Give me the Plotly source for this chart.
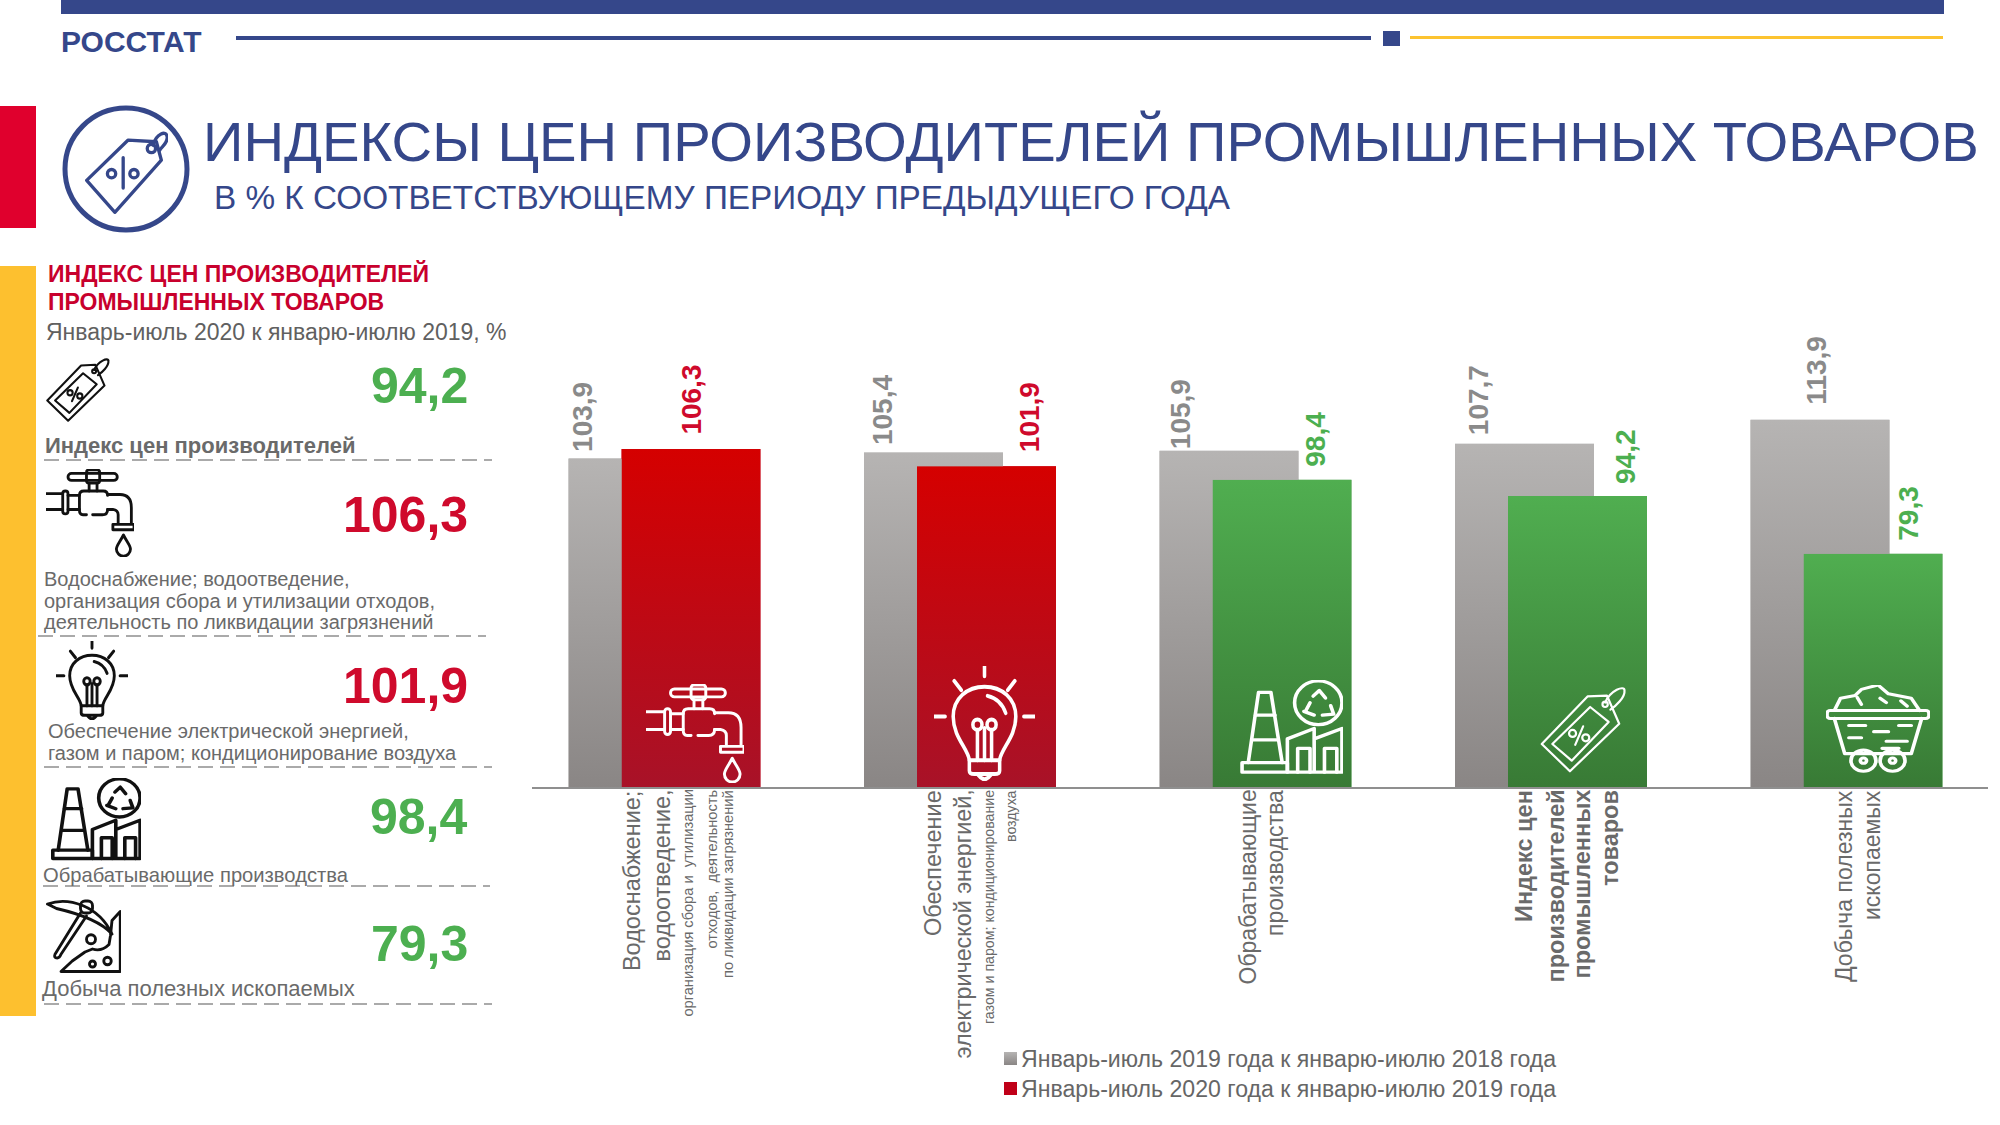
import base64
import plotly.graph_objects as go

# ---------- data ----------
categories = ["Водоснабжение; водоотведение", "Обеспечение электрической энергией",
              "Обрабатывающие производства", "Индекс цен производителей промышленных товаров",
              "Добыча полезных ископаемых"]
values_2019 = [103.9, 105.4, 105.9, 107.7, 113.9]
values_2020 = [106.3, 101.9, 98.4, 94.2, 79.3]
series_names = ["Январь-июль 2019 года к январю-июлю 2018 года",
                "Январь-июль 2020 года к январю-июлю 2019 года"]
panel_values = ["94,2", "106,3", "101,9", "98,4", "79,3"]
title_text = "ИНДЕКСЫ ЦЕН ПРОИЗВОДИТЕЛЕЙ ПРОМЫШЛЕННЫХ ТОВАРОВ"
subtitle_text = "В % К СООТВЕТСТВУЮЩЕМУ ПЕРИОДУ ПРЕДЫДУЩЕГО ГОДА"

# ---------- style ----------
W, H = 2000, 1125
FONT = "Liberation Sans"
NAVY = "#35478a"
RED = "#cf0a2c"
GREEN = "#4caf50"
GREY = "#6a6a6a"
BASE_PX, TOP_PX = 787, 300
PX_PER_UNIT = 3.875
Y_MIN = 19.1
GROUP0, PERIOD = 664.5, 295.5
AX_L, AX_R = 532, 1988
BAR_W = 139 / PERIOD
OFF_GREY = -96 / PERIOD
OFF_MAIN = -43 / PERIOD


def fx(x):
    return x / W


def fy(y):
    return 1 - y / H


def svg_uri(body, vb="0 0 100 100"):
    s = f'<svg xmlns="http://www.w3.org/2000/svg" viewBox="{vb}" preserveAspectRatio="none">{body}</svg>'
    return "data:image/svg+xml;base64," + base64.b64encode(s.encode()).decode()


def gradient(top, bottom):
    return svg_uri(f'<defs><linearGradient id="g" x1="0" y1="0" x2="0" y2="1">'
                   f'<stop offset="0" stop-color="{top}"/><stop offset="1" stop-color="{bottom}"/>'
                   f'</linearGradient></defs><rect width="100" height="100" fill="url(#g)"/>')


def tag_icon(c, sw=3):
    return svg_uri(f'<g fill="none" stroke="{c}" stroke-width="{sw}" stroke-linejoin="round" stroke-linecap="round">'
                   '<path d="M2 67 L54 13 L76 12 L90 44 L34 98 Z"/>'
                   '<path d="M14 67 L57 25 L78 42 L36 86 Z"/>'
                   '<circle cx="37" cy="55" r="4"/><circle cx="52" cy="60" r="4"/><path d="M40 68 L49 47"/>'
                   '<circle cx="74" cy="22" r="3"/><path d="M74 20 C80 6 96 0 96 6 C97 14 86 24 80 28"/></g>')


def big_tag_icon(c, sw=3.5):
    return svg_uri(f'<g fill="none" stroke="{c}" stroke-width="{sw}" stroke-linejoin="round" stroke-linecap="round">'
                   '<path d="M2 60 L52 12 L86 14 L92 36 L36 98 Z"/>'
                   '<circle cx="32" cy="52" r="5"/><circle cx="59" cy="52" r="5"/><path d="M46 33 L46 69"/>'
                   '<circle cx="80" cy="22" r="5"/><path d="M82 18 C86 4 98 0 99 8 C100 16 92 20 90 24"/></g>')


def faucet_icon(c, sw=3):
    return svg_uri(f'<g fill="none" stroke="{c}" stroke-width="{sw}" stroke-linejoin="round" stroke-linecap="round">'
                   '<rect x="25" y="5" width="56" height="8" rx="4"/><rect x="46" y="1" width="15" height="15" rx="3"/>'
                   '<path d="M49 16 V25 M58 16 V25"/>'
                   '<path d="M0 28 H19 M0 46 H19"/><rect x="19" y="25" width="6" height="26" rx="3"/>'
                   '<path d="M25 30 H38 M25 46 H38"/>'
                   '<path d="M46 52 H42 Q38 52 38 47 V30 Q38 25 43 25 H65 Q70 25 70 30"/>'
                   '<path d="M53 52 H64 Q70 52 70 46"/>'
                   '<path d="M70 29 H84 Q97 29 97 44 V62 M70 46 H76 Q82 47 82 52 V62"/>'
                   '<rect x="76" y="63" width="24" height="6" />'
                   '<path d="M88 75 C84 83 80 87 80 91 A8 8 0 0 0 96 91 C96 87 92 83 88 75 Z"/></g>')


def bulb_icon(c, sw=3):
    return svg_uri(f'<g fill="none" stroke="{c}" stroke-width="{sw}" stroke-linejoin="round" stroke-linecap="round">'
                   '<path d="M50 0 V9 M20 13 L27 21 M80 13 L73 21 M0 44 H11 M89 44 H100"/>'
                   '<path d="M35 82 C34 72 19 62 19 44 C19 28 33 18 50 18 C67 18 81 28 81 44 C81 62 66 72 65 82"/>'
                   '<path d="M53 26 C62 28 68 33 71 41"/>'
                   '<path d="M43 82 V56 M57 82 V56 M50 82 V54"/><circle cx="43" cy="51" r="4.5"/><circle cx="57" cy="51" r="4.5"/>'
                   '<path d="M35 82 H65 V91 Q65 94 60 94 H40 Q35 94 35 91 Z M44 95 Q50 102 56 95"/></g>')


def factory_icon(c, sw=3.5):
    return svg_uri(f'<g fill="none" stroke="{c}" stroke-width="{sw}" stroke-linejoin="round" stroke-linecap="round">'
                   '<path d="M2 97 H46 V87 H2 Z"/><path d="M8 87 L18 13 H30 L41 87"/>'
                   '<path d="M15 37 H34 M12 63 H37"/>'
                   '<circle cx="76" cy="24" r="23"/>'
                   '<path d="M71 17 L77 11 L83 19 M64 32 L68 24 M62 33 L72 37 M88 27 L91 36 L80 37"/>'
                   '<path d="M46 97 V62 L72 51 V97 M72 62 L99 51 V97 H46"/>'
                   '<path d="M56 97 V72 H68 V97 M82 97 V72 H94 V97"/></g>')


def pick_icon(c, sw=3.5):
    return svg_uri(f'<g fill="none" stroke="{c}" stroke-width="{sw}" stroke-linejoin="round" stroke-linecap="round">'
                   '<path d="M2 8 C30 -2 70 10 88 48 C72 30 40 20 14 14 Z"/>'
                   '<rect x="46" y="4" width="16" height="16" rx="6"/>'
                   '<path d="M46 20 L12 75 Q10 80 15 80 Q18 80 20 75 L54 24"/>'
                   '<path d="M99 18 V98 H20 L35 84 L52 72 L62 68 Q74 72 84 62 L86 50 L88 30 Z"/>'
                   '<circle cx="60" cy="55" r="6"/><circle cx="82" cy="84" r="5"/><circle cx="62" cy="88" r="4"/></g>')


def cart_icon(c, sw=3.5):
    return svg_uri(f'<g fill="none" stroke="{c}" stroke-width="{sw}" stroke-linejoin="round" stroke-linecap="round">'
                   '<rect x="1" y="29" width="98" height="9" rx="3"/>'
                   '<path d="M8 29 L14 15 L28 12 L34 5 L50 0 L60 10 L82 15 L90 29"/>'
                   '<path d="M30 14 L34 22 M52 15 L58 20 M72 18 L78 24"/>'
                   '<path d="M8 38 L18 78 H82 L92 38"/>'
                   '<path d="M22 46 H38 M46 53 H60 M70 46 H82 M22 60 H34 M58 64 H78 M54 72 H70"/>'
                   '<circle cx="36" cy="86" r="12"/><circle cx="64" cy="86" r="12"/>'
                   '<circle cx="36" cy="86" r="3"/><circle cx="64" cy="86" r="3"/></g>')


ymax = Y_MIN + (BASE_PX - TOP_PX) / PX_PER_UNIT
x_idx = list(range(len(categories)))

fig = go.Figure()
fig.add_bar(x=x_idx, y=[v - Y_MIN for v in values_2019], base=Y_MIN, width=BAR_W, offset=OFF_GREY,
            marker=dict(color="#a5a3a2", line_width=0), name=series_names[0], customdata=categories)
fig.add_bar(x=x_idx, y=[v - Y_MIN for v in values_2020], base=Y_MIN, width=BAR_W, offset=OFF_MAIN,
            marker=dict(color=["#c00018" if v > 100 else "#4a9a48" for v in values_2020], line_width=0),
            name=series_names[1], customdata=categories)

images, shapes, annots = [], [], []


def bar_gradient(i, v, off, top, bottom):
    images.append(dict(source=gradient(top, bottom), xref="x", yref="y", x=i + off, y=v,
                       sizex=BAR_W, sizey=v - Y_MIN, xanchor="left", yanchor="top",
                       sizing="stretch", layer="above"))


for i, v in enumerate(values_2019):
    bar_gradient(i, v, OFF_GREY, "#b6b4b3", "#8a8685")
for i, v in enumerate(values_2020):
    if v > 100:
        bar_gradient(i, v, OFF_MAIN, "#d50000", "#a81228")
    else:
        bar_gradient(i, v, OFF_MAIN, "#50ae50", "#387a35")


def icon(src, x0, y0, x1, y1):
    images.append(dict(source=src, xref="paper", yref="paper", x=fx(x0), y=fy(y0),
                       sizex=(x1 - x0) / W, sizey=(y1 - y0) / H, xanchor="left", yanchor="top",
                       sizing="stretch", layer="above"))


def rect(x0, y0, x1, y1, c):
    shapes.append(dict(type="rect", xref="paper", yref="paper", x0=fx(x0), x1=fx(x1), y0=fy(y0), y1=fy(y1),
                       fillcolor=c, line_width=0))


def dash(x0, x1, y):
    shapes.append(dict(type="line", xref="paper", yref="paper", x0=fx(x0), x1=fx(x1), y0=fy(y), y1=fy(y),
                       line=dict(color="#8f8f8f", width=1.6, dash="15px,7px")))


def text(x, base, s, size, color=GREY, bold=False, anchor="left"):
    annots.append(dict(xref="paper", yref="paper", x=fx(x), y=fy(base + 0.27 * size), text=f"<b>{s}</b>" if bold else s,
                       showarrow=False, xanchor=anchor, yanchor="bottom", borderpad=0, borderwidth=0,
                       font=dict(family=FONT, size=size, color=color)))


def vtext(x, top, s, size, color=GREY, bold=False):
    annots.append(dict(xref="paper", yref="paper", x=fx(x), y=fy(top), text=f"<b>{s}</b>" if bold else s,
                       showarrow=False, xanchor="center", yanchor="top", textangle=-90, borderpad=0,
                       font=dict(family=FONT, size=size, color=color)))


def vlabel_bottom(x, bottom, s, size, color):
    annots.append(dict(xref="paper", yref="paper", x=fx(x), y=fy(bottom), text=f"<b>{s}</b>",
                       showarrow=False, xanchor="center", yanchor="bottom", textangle=-90, borderpad=0,
                       font=dict(family=FONT, size=size, color=color)))


# header
rect(61, 0, 1944, 14, NAVY)
rect(236, 36, 1371, 40, NAVY)
rect(1383, 31, 1400, 46, NAVY)
rect(1410, 36, 1943, 39, "#fcc330")
rect(0, 106, 36, 228, "#e0002d")
rect(0, 266, 36, 1016, "#fdc02f")
text(61, 50, "РОССТАТ", 30, NAVY, bold=True)
text(203, 158, title_text, 56.2, NAVY)
text(214, 207, subtitle_text, 33.3, NAVY)
shapes.append(dict(type="circle", xref="paper", yref="paper", x0=fx(65), x1=fx(187), y0=fy(230), y1=fy(108),
                   line=dict(color=NAVY, width=5)))
icon(big_tag_icon(NAVY, 4), 85, 130, 168, 214)

# left panel
text(48, 281, "ИНДЕКС ЦЕН ПРОИЗВОДИТЕЛЕЙ", 23, "#c8002d", bold=True)
text(48, 309, "ПРОМЫШЛЕННЫХ ТОВАРОВ", 23, "#c8002d", bold=True)
text(46, 339, "Январь-июль 2020 к январю-июлю 2019, %", 23, "#606060")
panel_base = [400, 530, 700, 831, 958]
for s, b in zip(panel_values, panel_base):
    text(468, b, s, 50, GREEN if float(s.replace(",", ".")) < 100 else RED, bold=True, anchor="right")
text(45, 452, "Индекс цен производителей", 22, GREY, bold=True)
text(44, 585, "Водоснабжение; водоотведение,", 20, GREY)
text(44, 607, "организация сбора и утилизации отходов,", 20, GREY)
text(44, 628, "деятельность по ликвидации загрязнений", 20, GREY)
text(48, 737, "Обеспечение электрической энергией,", 20, GREY)
text(48, 759, "газом и паром; кондиционирование воздуха", 20, GREY)
text(43, 881, "Обрабатывающие производства", 20.2, GREY)
text(42, 995, "Добыча полезных ископаемых", 22, GREY)
dash(44, 492, 460)
dash(38, 486, 636)
dash(44, 492, 767)
dash(43, 490, 886)
dash(44, 492, 1004)
icon(tag_icon("#111", 3.2), 46, 357, 111, 422)
icon(faucet_icon("#111", 3.2), 46, 469, 134, 557)
icon(bulb_icon("#111", 4), 56, 641, 128, 720)
icon(factory_icon("#111", 4), 51, 778, 141, 861)
icon(pick_icon("#111", 3.8), 46, 898, 121, 973)

# bar icons
icon(faucet_icon("#fff"), 646, 684, 744, 783)
icon(bulb_icon("#fff", 3.5), 934, 666, 1035, 781)
icon(factory_icon("#fff"), 1240, 680, 1343, 775)
icon(tag_icon("#fff", 2.5), 1540, 685, 1628, 773)
icon(cart_icon("#fff"), 1826, 685, 1930, 773)

# value labels
grey_dx = [-82, -77.5, -75, -72.5, -30]
grey_gap = [5, 6, 0, 7, 14]
main_dx = [27, 69, 60, 74.5, 62]
main_gap = [13, 13, 12, 11, 12]
for i, (a, b) in enumerate(zip(values_2019, values_2020)):
    top_a = BASE_PX - (a - Y_MIN) * PX_PER_UNIT
    top_b = BASE_PX - (b - Y_MIN) * PX_PER_UNIT
    c = GROUP0 + PERIOD * i
    vlabel_bottom(c + grey_dx[i], top_a - grey_gap[i], f"{a:.1f}".replace(".", ","), 28, "#8a8a8a")
    vlabel_bottom(c + main_dx[i], top_b - main_gap[i], f"{b:.1f}".replace(".", ","), 28,
                  RED if b > 100 else GREEN)

# category labels
vtext(631.6, 789, "Водоснабжение;", 23.5)
vtext(661.5, 789, "водоотведение,", 23.5)
vtext(687, 789, "организация сбора и  утилизации", 14.6)
vtext(711, 789, "отходов,  деятельность", 14.6)
vtext(728, 789, "по ликвидации загрязнений", 14.6)
vtext(933, 789, "Обеспечение", 23.5)
vtext(962, 789, "электрической энергией,", 23.3)
vtext(989, 789, "газом и паром; кондиционирование", 14.2)
vtext(1011, 789, "воздуха", 14.2)
vtext(1247, 789, "Обрабатывающие", 23)
vtext(1275, 789, "производства", 23)
vtext(1524, 789, "Индекс цен", 23.5, bold=True)
vtext(1555, 789, "производителей", 23.5, bold=True)
vtext(1581, 789, "промышленных", 23.5, bold=True)
vtext(1610, 789, "товаров", 23.5, bold=True)
vtext(1844, 789, "Добыча полезных", 23)
vtext(1872, 789, "ископаемых", 23)

# legend
legend_colors = [("#b6b4b3", "#8a8685"), ("#c00018", "#c00018")]
for (top, bottom), name, y in zip(legend_colors, series_names, [1058, 1088]):
    icon(gradient(top, bottom), 1004, y - 6, 1017, y + 7)
    text(1021, y + 8, name, 23.1, "#666666")

fig.update_layout(
    width=W, height=H, margin=dict(l=0, r=0, t=0, b=0), paper_bgcolor="white", plot_bgcolor="white",
    barmode="overlay", images=images, shapes=shapes, annotations=annots,
    font=dict(family=FONT, color=GREY),
    xaxis=dict(domain=[fx(AX_L), fx(AX_R)], range=[(AX_L - GROUP0) / PERIOD, (AX_R - GROUP0) / PERIOD],
               tickvals=x_idx, showticklabels=False, ticks="", showgrid=False, zeroline=False,
               showline=True, linecolor="#8f8f8f", linewidth=2),
    yaxis=dict(domain=[fy(BASE_PX), fy(TOP_PX)], range=[Y_MIN, ymax], visible=False),
    showlegend=False,
)

fig.write_html("out.html", post_script="document.body.style.margin='0';", config={"displayModeBar": False})
